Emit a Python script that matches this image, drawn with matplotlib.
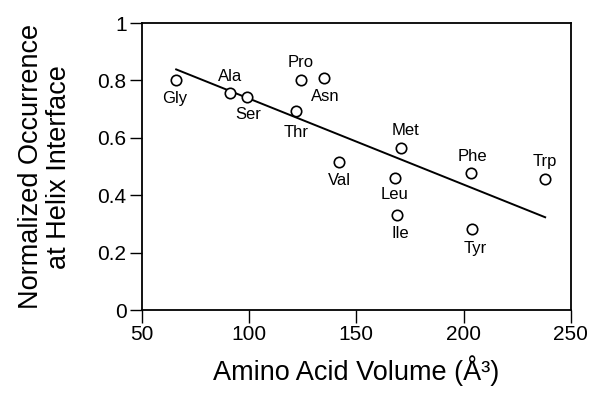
import matplotlib
matplotlib.use("Agg")
import matplotlib.pyplot as plt
import numpy as np

# Amino acid volume vs normalized occurrence at helix interface
residues = ["Gly", "Ala", "Ser", "Pro", "Asn", "Thr", "Val",
            "Met", "Leu", "Ile", "Phe", "Tyr", "Trp"]
volume = [66, 91, 99, 124, 135, 122, 142, 171, 168, 169, 203.5, 204, 238]
occurrence = [0.80, 0.755, 0.741, 0.801, 0.807, 0.693, 0.515,
              0.566, 0.461, 0.331, 0.476, 0.281, 0.456]

# where each label sits relative to its circle: (dx, dy) in points
label_offsets = [(-1, -13), (0, 12), (1, -12), (0, 13), (1, -13), (0, -15), (0, -13),
                 (3, 12), (0, -12), (2, -13), (1, 12), (2, -14), (0, 13)]

plt.rcParams['font.family'] = ['Liberation Sans', 'DejaVu Sans']

fig = plt.figure(figsize=(5.91, 3.98), dpi=100)
ax = fig.add_axes([0.240, 0.221, 0.726, 0.721])

# least squares line through the points
slope, intercept = np.polyfit(volume, occurrence, 1)
xfit = np.array([min(volume), max(volume)])
ax.plot(xfit, slope * xfit + intercept, color='black', lw=1.4)

ax.plot(volume, occurrence, 'o', ms=7.5, mfc='white', mec='black', mew=1.2)

for name, x, y, off in zip(residues, volume, occurrence, label_offsets):
    ax.annotate(name, (x, y), xytext=off, textcoords='offset points',
                ha='center', va='center', fontsize=12)

ax.set_xlim(50, 250)
ax.set_ylim(0, 1)
ax.set_xticks([50, 100, 150, 200, 250])
ax.set_yticks([0, 0.2, 0.4, 0.6, 0.8, 1])
ax.set_yticklabels(['0', '0.2', '0.4', '0.6', '0.8', '1'])
ax.tick_params(direction='out', length=9, width=1, labelsize=15, pad=2)
for s in ax.spines.values():
    s.set_linewidth(1.3)

ax.set_xlabel('Amino Acid Volume (Å³)', fontsize=19.5, labelpad=8)
ax.set_ylabel('Normalized Occurrence\nat Helix Interface', fontsize=19.5,
              labelpad=18, linespacing=1.1)

fig.savefig('out.png', dpi=100)
